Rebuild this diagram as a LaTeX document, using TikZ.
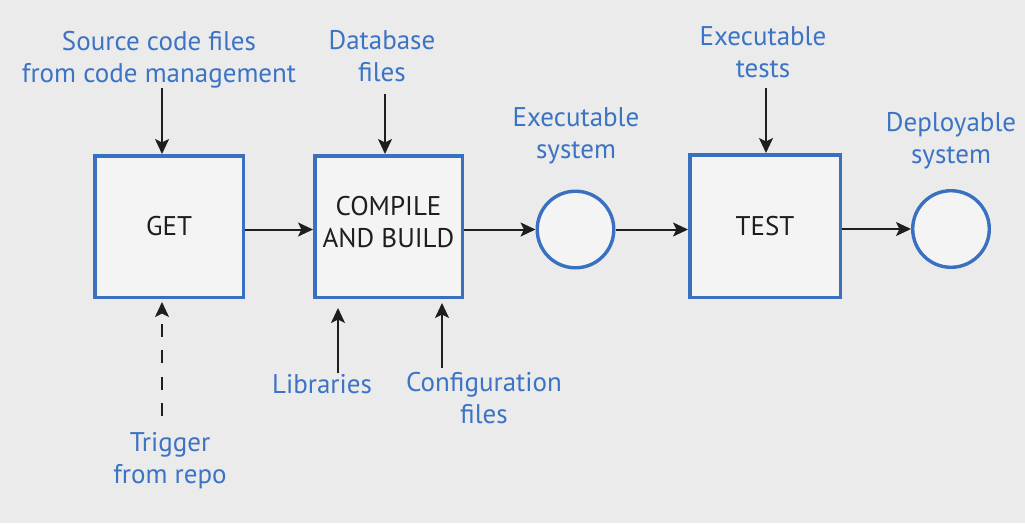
\documentclass[tikz,border=0pt]{standalone}
\usepackage{fontspec}
\setmainfont{PT Sans}
\usetikzlibrary{arrows.meta,calc}
\definecolor{bg}{RGB}{235,235,235}
\definecolor{boxfill}{RGB}{244,244,244}
\definecolor{bord}{RGB}{58,112,192}
\definecolor{lblblue}{RGB}{59,115,197}
\definecolor{ink}{RGB}{30,30,30}
\begin{document}
\begin{tikzpicture}[x=1pt,y=-1pt,
  stepbox/.style={draw=bord, line width=3.5pt, fill=boxfill, inner sep=0pt,
    text=ink, align=center, font=\fontsize{27}{32}\selectfont},
  statecirc/.style={circle, draw=bord, line width=3.4pt, fill=boxfill, inner sep=0pt, minimum size=76.6pt},
  lbl/.style={text=lblblue, align=center, anchor=base, inner sep=0pt, font=\fontsize{27}{31.5}\selectfont},
  arr/.style={draw=ink, line width=2pt, -{Stealth[length=15pt,width=14pt,inset=3.5pt]}},
  dasharr/.style={arr, dash pattern=on 13pt off 13.5pt}
]
\fill[bg] (0,0) rectangle (1025,523);
\useasboundingbox (0,0) rectangle (1025,523);

% boxes and states
\node[stepbox, minimum width=148.5pt, minimum height=141.5pt] (get) at (169,226.5) {GET};
\node[stepbox, minimum width=147.5pt, minimum height=141.5pt] (compile) at (388.5,226.5) {COMPILE\\AND BUILD\strut};
\node[stepbox, minimum width=150.5pt, minimum height=142.5pt] (test) at (765,226) {TEST};
\node[statecirc] (c1) at (575.5,229.5) {};
\node[statecirc] (c2) at (951,229) {};

% labels (anchor = baseline of the last line)
\node[lbl] (src) at (159,82) {Source code files\\from code management};
\node[lbl] (db) at (382,81) {Database\\files};
\node[lbl] (etests) at (763,77) {Executable\\tests};
\node[lbl] (esys) at (576,158) {Executable\\system};
\node[lbl] (dsys) at (951,163) {Deployable\\system};
\node[lbl] (libs) at (322,393) {Libraries};
\node[lbl] (conf) at (484,423) {Configuration\\files};
\node[lbl] (trig) at (170,483) {Trigger\\from repo};

% free ends of input connectors
\coordinate (srcS) at (162,88);
\coordinate (dbS) at (385,94);
\coordinate (testsS) at (766,88);
\coordinate (trigS) at (162,416);
\coordinate (libsS) at (338,373);
\coordinate (confS) at (442,368);

% input connectors
\draw[arr] (srcS) -- (srcS |- get.north);
\draw[arr] (dbS) -- (dbS |- compile.north);
\draw[arr] (testsS) -- (testsS |- test.north);
\draw[dasharr] (trigS) -- ($(trigS |- get.south)+(0,3)$);
\draw[arr] (libsS) -- ($(libsS |- compile.south)+(0,9)$);
\draw[arr] (confS) -- ($(confS |- compile.south)+(0,4)$);

% main flow
\draw[arr] (get.east |- c1) -- (compile.west |- c1);
\draw[arr] (compile.east |- c1) -- (c1.west);
\draw[arr] (c1.east) -- (test.west |- c1);
\draw[arr] (test.east |- c2) -- (c2.west);
\end{tikzpicture}
\end{document}
